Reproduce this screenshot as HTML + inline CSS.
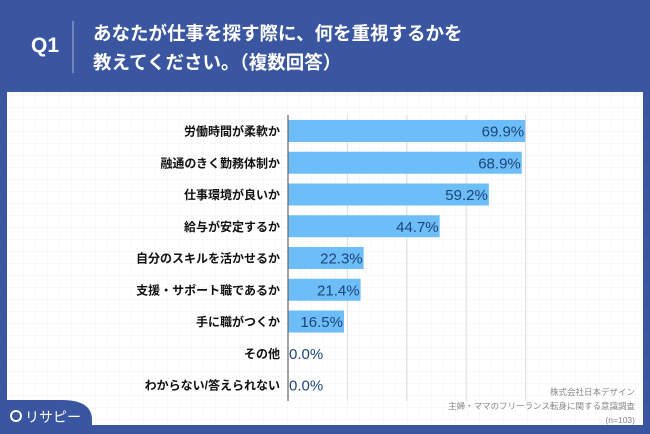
<!DOCTYPE html>
<html><head><meta charset="utf-8"><style>
body{margin:0;width:650px;height:434px;background:#3A56A0;overflow:hidden;font-family:"Liberation Sans","Noto Sans CJK JP",sans-serif;}
</style></head><body>
<svg width="650" height="434" xmlns="http://www.w3.org/2000/svg" style="position:absolute;left:0;top:0">
<defs><pattern id="g" width="12" height="12" patternUnits="userSpaceOnUse"><path d="M12 0V12H0" fill="none" stroke="#f1f1f4" stroke-width="1"/></pattern></defs>
<rect x="0" y="0" width="650" height="434" fill="#3A56A0"/>
<text x="31" y="52" fill="#fff" font-size="21" font-weight="bold">Q1</text>
<line x1="73" y1="21" x2="73" y2="73" stroke="#a8b4d8" stroke-width="1"/>
<text x="93" y="40" fill="#fff" font-size="18.5" font-weight="bold">あなたが仕事を探す際に、何を重視するかを</text>
<text x="93" y="69" fill="#fff" font-size="18.5" font-weight="bold">教えてください。（複数回答）</text>
<rect x="7" y="92" width="636" height="333" fill="#fff"/>
<rect x="7" y="92" width="636" height="333" fill="url(#g)"/>
<g id="plot"></g>
<path d="M0 434V400H62Q92 400 92 420V434Z" fill="#3A56A0"/>
<circle cx="16" cy="416" r="5" fill="none" stroke="#fff" stroke-width="2"/>
<text x="25" y="422" fill="#fff" font-size="14">リサピー</text>
<g fill="#888" font-size="8.5" text-anchor="end">
<text x="635" y="395">株式会社日本デザイン</text>
<text x="635" y="409">主婦・ママのフリーランス転身に関する意識調査</text>
<text x="635" y="423">(n=103)</text>
</g>
</svg>
<script>
const categories=["労働時間が柔軟か","融通のきく勤務体制か","仕事環境が良いか","給与が安定するか","自分のスキルを活かせるか","支援・サポート職であるか","手に職がつくか","その他","わからない/答えられない"];
const values=[69.9,68.9,59.2,44.7,22.3,21.4,16.5,0.0,0.0];
const valueLabels=["69.9%","68.9%","59.2%","44.7%","22.3%","21.4%","16.5%","0.0%","0.0%"];
const axisMax=70;
const x0=288,x1=525.5,yTop=115,pitch=31.75,barH=22;
const xs=v=>x0+(x1-x0)*v/axisMax;
const yc=i=>131+i*pitch;
const NS="http://www.w3.org/2000/svg";
const plot=document.getElementById('plot');
function mk(t,a){const e=document.createElementNS(NS,t);for(const k in a)e.setAttribute(k,a[k]);plot.appendChild(e);return e;}
for(let k=1;k<=4;k++){const gx=xs(axisMax*k/4);
const l=mk('line',{x1:gx,y1:yTop,x2:gx,y2:401,stroke:'#ddd','stroke-width':1});

}
categories.forEach((c,i)=>{
const y=yc(i);
const r=mk('rect',{x:x0,y:y-barH/2,width:Math.max(0,xs(values[i])-x0),height:barH,fill:'#6DBDF9'});


const t=mk('text',{x:280,y:y+4.5,'text-anchor':'end','font-size':12,'font-weight':'bold',fill:'#111'});
t.textContent=c;


const inside=values[i]>=8;
const v=mk('text',{x:inside?xs(values[i])-1:x0+1,y:y+5.5,'text-anchor':inside?'end':'start','font-size':15,fill:'#1B4577'});
v.textContent=valueLabels[i];


});
const ax=mk('line',{x1:x0,y1:yTop,x2:x0,y2:401,stroke:'#666','stroke-width':1.2});


</script>
</body></html>
